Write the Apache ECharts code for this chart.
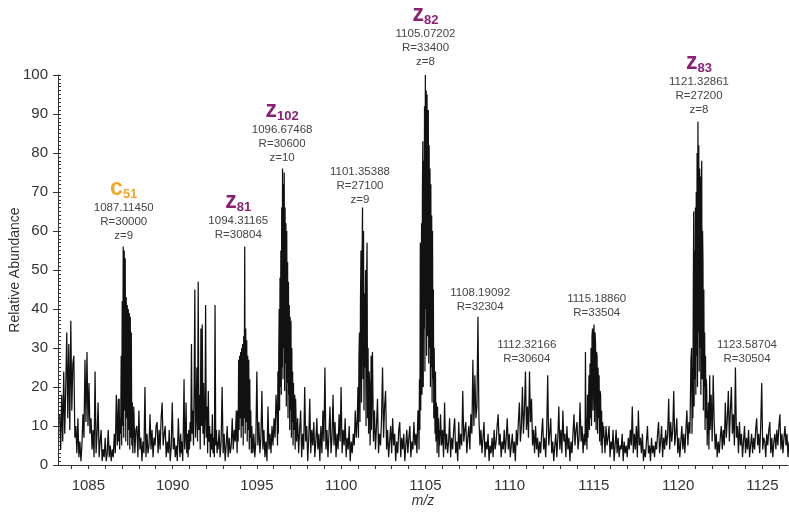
<!DOCTYPE html>
<html>
<head>
<meta charset="utf-8">
<script src="https://cdn.jsdelivr.net/npm/echarts@6/dist/echarts.min.js"></script>
<style>
html, body { margin: 0; padding: 0; background: #fff; }
#chart { width: 789px; height: 512px; }
</style>
</head>
<body>
<div id="chart"></div>
<script>
// Profile spectrum, stored as runs of sampled abundances (start m/z, sampling step, values).
const noise1083 = [13,4,18,6,24,8,20,34,12,31, 9,37,14,26,28,7,10,3,12,2, 6,1,5,13,7,27,11,29,10,21, 8,12,4,9,2,24,3,8,16,2, 6,9,1,4,2,7,1,3,9,2, 5,1,4,2,8,3,18,5,17];
const c51Peak = [6,17,4,12,8,28,5,42,10,56, 7,55,14,53,6,43,12,41,5,40, 9,39,4,38,7,34,5,16,3,9];
const noise1087 = [15,3,9,10,2,14,4,7,1,6, 3,20,2,8,3,5,13,4,9,2, 7,5,10,11,3,9,4,12,16,5, 8,10,2,6,3,9,1,5,16,4, 7,2,5,1,12];
const spikes1090 = [5,2,8,3,6,1,10,22,4,7, 16,3,8,2,9,4,11,6,31,8, 14,5,20,45,7,12,25,6,47,9, 18,4,35,10,36,8,21,5,12,41, 7,15,3,19,6,10,2,8,4,13, 3,7,2,41,5,9,3,6];
const noise1092 = [4,9,2,6,20,3,8,1,5,10, 2,7,3,5,12,4,9,6,14];
const z81Peak = [8,3,14,6,27,9,28,12,29,7, 30,10,31,5,33,12,56,8,35,11, 32,6,28,9,27,4,22,7,14,3];
const noise1094 = [10,3,8,2,6,24,5,11,3,7, 19,4,9,2,6,1,15,4,8,3, 10,5,12,7,18];
const z102Peak = [12,5,24,8,28,40,14,48,20,55, 18,66,25,76,22,72,30,75,19,66, 26,62,15,60,21,52,12,47,18,41, 9,38,14,37,7,30,11,24,5,21, 9,16,18,4];
const noise1097 = [17,6,12,3,9,14,2,8,4,20, 6,10,1,7,17,3,9,5,11,2, 6,12,4,8,1,10,3,14,6,25, 4,9,2,8,15,3,7,18,5,11, 2,8,4,13,6,20,3,9,5,12, 2,7,4,10,1,6,3,8,5,14, 7,12];
const peak1101 = [20,7,28,34,11,42,55,16,48,66, 22,60,14,44,25,50,10,46,57,12, 30,8,24,21,5,12,28];
const noise1101 = [9,29,6,14,4,10,17,3,8,5, 12,25,7,15,19,4,9,2,6,10, 3,12,5,8,1,6,3,9,11,2, 7,4,8,1,5,9,3,7,10,2, 6,4,11,5,8,3,14];
const z82Peak = [12,4,22,9,57,14,30,62,18,70, 83,20,78,35,92,24,100,40,96,28, 95,33,88,91,26,82,30,76,20,72, 25,64,16,60,22,45,12,30,18,8, 24,6,16,11,3,15,7,12,2,9, 5,10];
const noise1105 = [13,5,9,2,16,4,8,3,6,12, 2,7,4,9,12,3,6,1,11,4, 8,5,19,6,9,11,3,7,10,4, 13,8,27,10,23,12,15,38,12,5,
  9,3,7,11,2,6,4,8,1,5, 3,7,2,9,4,6,10,13,5,8, 2,6,4,9,3,7,12,4,8,2, 5,8,3,6,1,9,5,11,16,6,
  10,20,8,14,24,9,15,7,24,11, 17,5,9,3,10,4,7,2,6,3, 8,12,4,7,2,9,23,5,8,12, 3,6,1,5,8,2,7,15,4,9,
  3,14,6,8,2,10,4,7,1,6, 3,8,13,5,9,11,4,7,16,6, 10,3,8,5];
const peak1115 = [29,6,12,4,18,7,15,23,9,26, 12,30,10,33,35,14,32,36,11,34, 31,9,29,28,8,25,12,23,6,19, 18,5,14,3,11,7,10];
const noise1115 = [8,3,10,5,7,10,2,6,4,9, 1,5,9,3,7,2,5,4,8,1, 6,3,5,2,7,4,9,5,15,3, 8,4,10,2,14,5,7,3,8,1,
  4,2,6,10,3,5,1,7,3,5, 2,6,4,8,11,3,6,10,2,7, 4,9,5,8,17,4,11,6,9,19, 5,8,12,3,7,2,6,10,4,8, 3,9,14,5,11,8,27];
const z83Peak = [30,8,25,12,45,65,15,55,22,66, 18,70,28,80,20,88,34,82,24,76, 30,74,18,72,78,22,60,52,14,45, 20,34,9,28,12,22,19,5,14,8, 16,4,12,23];
const noise1121 = [9,18,6,23,11,4,8,2,6,3, 7,10,4,9,5,16,7,12,19,6, 14,20,8,13,5,25,7,10,3,11, 5,8,2,6,10,3,7,4,9,2,
  5,8,3,7,4,9,12,5,8,3, 10,21,4,7,6,2,8,5,9,11, 3,7,2,6,8,4,9,5,10,13, 4,8,3,7,10,5,8,2,6];

const runs = [
  [1083.30, 0.06, noise1083], [1086.80, 0.03, c51Peak], [1087.70, 0.06, noise1087],
  [1090.40, 0.04, spikes1090], [1092.70, 0.06, noise1092], [1093.80, 0.03, z81Peak],
  [1094.70, 0.06, noise1094], [1096.20, 0.025, z102Peak], [1097.30, 0.06, noise1097],
  [1101.00, 0.03, peak1101], [1101.80, 0.06, noise1101], [1104.60, 0.025, z82Peak],
  [1105.90, 0.06, noise1105], [1114.50, 0.03, peak1115], [1115.60, 0.06, noise1115],
  [1120.80, 0.025, z83Peak], [1121.90, 0.06, noise1121]
];

// Peak annotations
const annMz = ['1087.11450','1094.31165','1096.67468','1101.35388','1105.07202','1108.19092','1112.32166','1115.18860','1121.32861','1123.58704'];
const annR = [30000, 30804, 30600, 27100, 33400, 32304, 30604, 33504, 27200, 30504];
const annZ = [9, null, 10, 9, 8, null, null, null, 8, null];
const ionType = ['c', 'z', 'z', null, 'z', null, null, null, 'z', null];
const ionNum = ['51', '81', '102', null, '82', null, null, null, '83', null];

// Axis ticks
const xLabelValues = [1085, 1090, 1095, 1100, 1105, 1110, 1115, 1120, 1125];
const xTickValues = [1084,1085,1086,1087,1088,1089,1090,1091,1092,1093,1094,1095,1096,1097,1098,1099,1100,1101,1102,1103,1104,1105,1106,1107,1108,1109,1110,1111,1112,1113,1114,1115,1116,1117,1118,1119,1120,1121,1122,1123,1124,1125,1126];
const yMinorTicks = [];
for (let v = 0; v <= 100; v++) yMinorTicks.push(v);

// Layout: bottom-centre of each annotation block, in axis units
const labelAnchors = [
  [1087.10, 57.0], [1093.90, 57.2], [1096.50, 76.9], [1101.12, 66.2], [1105.01, 101.6],
  [1108.25, 38.8], [1111.02, 25.4], [1115.17, 37.2], [1121.24, 89.2], [1124.09, 25.4]
];

const spectrum = [];
runs.forEach(([start, step, vals]) => {
  vals.forEach((v, i) => spectrum.push([+(start + i * step).toFixed(4), v]));
});

const FONT = "'Liberation Sans', Arial, sans-serif";
const ION_FONT = "'Liberation Sans Narrow', 'Liberation Sans', Arial, sans-serif";
const axisColor = '#333';

const chart = echarts.init(document.getElementById('chart'), null, { renderer: 'canvas' });
chart.setOption({
  animation: false,
  backgroundColor: '#fff',
  grid: { left: 58, right: 1, top: 75, bottom: 47, containLabel: false, outerBoundsMode: 'none' },
  xAxis: {
    type: 'value', min: 1083.2, max: 1126.52,
    name: 'm/z', nameLocation: 'middle', nameGap: 29, nameMoveOverlap: false,
    nameTextStyle: { fontStyle: 'italic', fontSize: 14, color: axisColor, fontFamily: FONT },
    axisLine: { show: true, onZero: false, lineStyle: { color: axisColor, width: 1 } },
    axisTick: { show: true, length: 4, customValues: xTickValues, lineStyle: { color: axisColor } },
    axisLabel: { customValues: xLabelValues, margin: 13, fontSize: 15, color: axisColor, fontFamily: FONT,
                 formatter: v => String(Math.round(v)) },
    splitLine: { show: false }
  },
  yAxis: [{
    type: 'value', min: 0, max: 100, interval: 10,
    name: 'Relative Abundance', nameLocation: 'middle', nameGap: 36, nameRotate: 90, nameMoveOverlap: false,
    nameTextStyle: { fontSize: 14, color: axisColor, fontFamily: FONT },
    axisLine: { show: true, lineStyle: { color: axisColor, width: 1 } },
    axisTick: { show: true, length: 5, lineStyle: { color: axisColor } },
    axisLabel: { fontSize: 15, color: axisColor, margin: 10, fontFamily: FONT },
    splitLine: { show: false }
  }, {
    type: 'value', min: 0, max: 100, position: 'left', offset: 0,
    axisLine: { show: false },
    axisTick: { show: true, inside: true, length: 3, customValues: yMinorTicks, lineStyle: { color: axisColor } },
    axisLabel: { show: false },
    splitLine: { show: false }
  }],
  series: [{
    type: 'line', data: spectrum, yAxisIndex: 0,
    showSymbol: false, symbol: 'none', sampling: null, clip: true,
    lineStyle: { color: '#111', width: 1.25 }
  }]
});

const rich = {
  c: { fill: '#f5a623', fontSize: 23, fontWeight: 'bold', fontFamily: ION_FONT, lineHeight: 24 },
  cs: { fill: '#f5a623', fontSize: 13, fontWeight: 'bold', fontFamily: ION_FONT, lineHeight: 24, verticalAlign: 'bottom' },
  z: { fill: '#8a1f73', fontSize: 23, fontWeight: 'bold', fontFamily: ION_FONT, lineHeight: 24 },
  zs: { fill: '#8a1f73', fontSize: 13, fontWeight: 'bold', fontFamily: ION_FONT, lineHeight: 24, verticalAlign: 'bottom' },
  n: { fill: '#444', fontSize: 11.5, fontFamily: FONT, lineHeight: 14 }
};

function blockText(i) {
  const lines = [];
  if (ionType[i]) lines.push('{' + ionType[i] + '|' + ionType[i] + '}{' + ionType[i] + 's|' + ionNum[i] + '}');
  lines.push('{n|' + annMz[i] + '}');
  lines.push('{n|R=' + annR[i] + '}');
  if (annZ[i] !== null) lines.push('{n|z=' + annZ[i] + '}');
  return lines.join('\n');
}

const texts = annMz.map((_, i) => {
  const p = chart.convertToPixel({ seriesIndex: 0 }, labelAnchors[i]);
  return {
    type: 'text', x: p[0], y: p[1], z: 10,
    style: { text: blockText(i), rich: rich, align: 'center', verticalAlign: 'bottom', fill: '#444' }
  };
});
chart.setOption({ graphic: texts });
</script>
</body>
</html>
